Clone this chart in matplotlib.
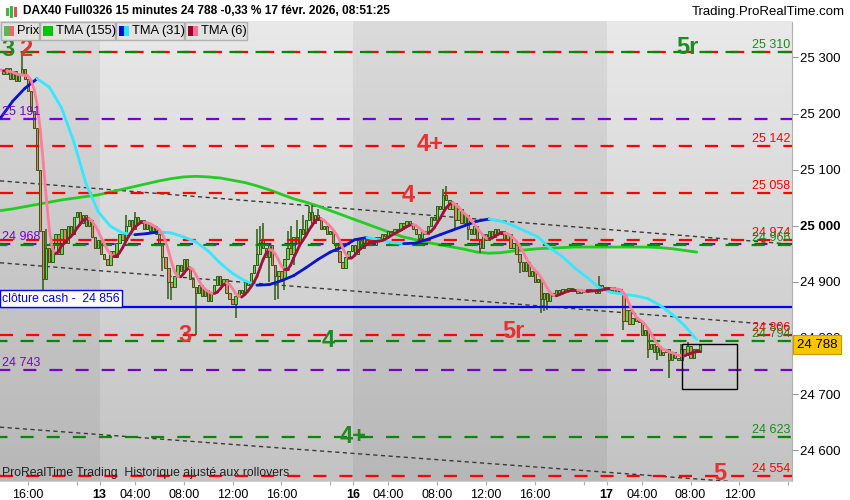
import numpy as np
import pandas as pd
import matplotlib
matplotlib.use("Agg")
import matplotlib.pyplot as plt
from matplotlib.collections import LineCollection
from matplotlib.patches import Rectangle
from matplotlib.colors import LinearSegmentedColormap
from matplotlib.transforms import blended_transform_factory
from matplotlib.ticker import FixedLocator, FuncFormatter

plt.rcParams['font.family'] = ['Liberation Sans', 'DejaVu Sans']
plt.rcParams['lines.scale_dashes'] = False

# 15 minute closes, 12 Feb 13:45 -> 17 Feb 08:45 (session 01:15-22:00)
closes_12 = [25278, 25270, 25282, 25262, 25275, 25258, 25270, 25280, 25262, 25240,
             25205, 25175, 25100, 24990, 24905, 24960, 24935, 24965, 24985, 24950,
             24995, 24970, 25000, 24985, 25015, 25025, 25005, 25020, 25000, 25010,
             24980, 24960, 24975]
closes_13 = [24950, 24940, 24930, 24955, 24945, 24970, 24985, 24975, 25000, 25010,
             24995, 25015, 25005, 25010, 24995, 25005, 24990, 25000, 24985, 24970,
             24945, 24925, 24900, 24890, 24910, 24930, 24920, 24940, 24925, 24905,
             24890, 24880, 24895, 24875, 24885, 24865, 24880, 24895, 24910, 24895,
             24905, 24880, 24870, 24860, 24875, 24885, 24880, 24900, 24895, 24915,
             24930, 24950, 24975, 24960, 24945, 24965, 24930, 24910, 24920, 24905,
             24940, 24960, 24950, 24980, 24970, 24995, 24985, 25010, 25025, 25005,
             25020, 25010, 24995, 25000, 24985, 24990, 24970, 24955, 24935, 24925,
             24945, 24955, 24965]
closes_16 = [24950, 24975, 24960, 24980, 24970, 24975, 24965, 24980, 24972, 24985,
             24982, 24990, 24988, 24995, 24992, 25005, 25000, 25008, 25002, 24995,
             24985, 24978, 24990, 24985, 25000, 25015, 25010, 25035, 25030, 25055,
             25045, 25030, 25040, 25010, 25030, 25005, 25020, 24995, 24985, 25000,
             24975, 24960, 24985, 24975, 24990, 24980, 24995, 24985, 24990, 24975,
             24985, 24960, 24970, 24950, 24935, 24920, 24935, 24910, 24920, 24900,
             24905, 24870, 24880, 24865, 24880, 24875, 24885, 24880, 24887, 24883,
             24889, 24884, 24886, 24880, 24884, 24882, 24887, 24883, 24886, 24880,
             24895, 24885, 24890]
closes_17 = [24885, 24890, 24882, 24888, 24880, 24830, 24850, 24825, 24835, 24830,
             24828, 24805, 24815, 24780, 24790, 24775, 24785, 24770, 24775, 24780,
             24760, 24775, 24765, 24760, 24780, 24770, 24785, 24765, 24780, 24775,
             24788]

# visible wick extremes (bar index -> price)
highs_extra = {7: 25310, 15: 24995, 41: 25020, 44: 25025, 84: 24995, 85: 25000,
               86: 25005, 94: 24990, 95: 25000, 97: 25010, 99: 25020, 101: 25035,
               102: 25037, 104: 25030, 145: 25065, 146: 25070, 196: 24910,
               204: 24856, 223: 24790, 225: 24792}
lows_extra = {14: 24878, 53: 24920, 55: 24870, 56: 24868, 64: 24805, 77: 24835,
              88: 24900, 90: 24868, 91: 24870, 93: 24885, 96: 24930, 149: 24995,
              153: 24975, 157: 24952, 170: 24915, 177: 24845, 178: 24848,
              179: 24850, 204: 24814, 212: 24765, 215: 24760, 219: 24728}

# triangular averages, one value per hour (every 4th bar)
tma155_hourly = [25027, 25030, 25034, 25038, 25042, 25046, 25049, 25052, 25055, 25060,
                 25065, 25070, 25075, 25080, 25084, 25087, 25088, 25087, 25085, 25081,
                 25077, 25071, 25064, 25056, 25048, 25042, 25035, 25027, 25019, 25011,
                 25003, 24995, 24987, 24980, 24975, 24970, 24966, 24962, 24958, 24953,
                 24951, 24952, 24955, 24957, 24959, 24960, 24961, 24962, 24962, 24962,
                 24962, 24962, 24962, 24962, 24961, 24959, 24956, 24953]
tma31_hourly = [25192, 25222, 25245, 25262, 25247, 25210, 25150, 25075, 25025, 24999,
                24987, 24984, 24986, 24989, 24987, 24980, 24971, 24955, 24933, 24915,
                24902, 24894, 24895, 24902, 24911, 24925, 24940, 24953, 24962, 24975,
                24979, 24975, 24970, 24968, 24969, 24976, 24984, 24992, 25000, 25008,
                25012, 25008, 25000, 24990, 24980, 24960, 24945, 24925, 24908, 24890,
                24881, 24878, 24875, 24870, 24858, 24842, 24822, 24797]

# horizontal levels
levels_red = [25310, 25142, 25058, 24974, 24806, 24554]
levels_green = [25310, 24966, 24794, 24623]
levels_purple = [25191, 24968, 24743]
cash_close = 24856
last_price = 24788

right_labels = [(25310, 'green'), (25142, 'red'), (25058, 'red'), (24974, 'red'),
                (24966, 'green'), (24806, 'red'), (24794, 'green'), (24623, 'green'),
                (24554, 'red')]
left_labels = [25191, 24968, 24743]

# wave counts written on the chart: text, bar index, level, colour
wave_labels = [("3", 2.5, 25314, 'green'), ("2", 8.3, 25314, 'red'),
               ("5r", 225.0, 25318, 'green'), ("4+", 140.6, 25144, 'red'),
               ("4", 133.4, 25053, 'red'), ("3", 60.4, 24805, 'red'),
               ("4", 107.2, 24796, 'green'), ("5r", 168.1, 24812, 'red'),
               ("4+", 115.4, 24625, 'green'), ("5", 235.6, 24559, 'red')]

# drawn trend lines: price at left and right edge of the window
trend_lines = [(25080, 24967), (24934, 24821), (24641, 24536)]

# zone box: bar index from/to, price low/high
box_zone = (223.2, 241.3, 24709, 24789)

day_bounds = [32.5, 115.5, 198.5]
time_ticks = [9, 25, 32.5, 44, 60, 76, 92, 108, 115.5, 127, 143, 159, 175, 191,
              198.5, 210, 226, 242, 258]
time_labels = ["16:00", "", "13", "04:00", "08:00", "12:00", "16:00", "", "16",
               "04:00", "08:00", "12:00", "16:00", "", "17", "04:00", "08:00", "12:00", ""]
price_ticks = [24600, 24700, 24800, 24900, 25000, 25100, 25200, 25300]

COL = {'red': '#ff0000', 'green': '#008a00', 'purple': '#7a00c8'}
TXT = {'red': '#e63232', 'green': '#1f8a1f'}

closes = closes_12 + closes_13 + closes_16 + closes_17
n = len(closes)
idx = np.arange(n)
opens = [closes[0]] + closes[:-1]

x0, x1 = -0.16, 259.2
y0, y1 = 24545, 25364

fig = plt.figure(figsize=(8.5, 5), dpi=100)
fig.patch.set_facecolor('white')
ax = fig.add_axes([0, 19 / 500, 792 / 850, 459.5 / 500])
ax.set_xlim(x0, x1)
ax.set_ylim(y0, y1)

# background gradient + darker alternate days
grad = np.linspace(0, 1, 256).reshape(-1, 1)
bg = LinearSegmentedColormap.from_list('bg', ['#e9e9e9', '#c3c3c3'])
ax.imshow(grad, extent=[x0, x1, y0, y1], aspect='auto', cmap=bg, origin='upper', zorder=0)
ax.axvspan(x0, day_bounds[0], color='black', alpha=0.06, lw=0, zorder=0.5)
ax.axvspan(day_bounds[1], day_bounds[2], color='black', alpha=0.06, lw=0, zorder=0.5)

# trend lines
for a, b in trend_lines:
    ax.plot([x0, x1], [a, b], color='#3a3a3a', lw=1, ls=(0, (3, 2.5)), zorder=1.5)

# TMA 155
ax.plot(np.arange(len(tma155_hourly)) * 4, tma155_hourly, color='#22cc22', lw=2, zorder=2,
        solid_capstyle='round')

# candles
for i in range(n):
    o, c = opens[i], closes[i]
    lo = lows_extra.get(i, min(o, c))
    hi = highs_extra.get(i, max(o, c))
    if hi > max(o, c) or lo < min(o, c):
        ax.vlines(i, lo, hi, color='#2d5c12', lw=1.1, zorder=2.9)
    fill = '#5fd84a' if c >= o else '#f07a6a'
    ax.bar(i, max(abs(c - o), 1.5), bottom=min(o, c), width=0.75, color=fill,
           edgecolor='#2d5c12', linewidth=0.7, zorder=3)

# levels
for lv in levels_red:
    ax.axhline(lv, color=COL['red'], lw=1.6, ls=(0, (9.4, 9.4)), zorder=3.5)
for lv in levels_purple:
    ax.axhline(lv, color=COL['purple'], lw=1.6, ls=(2, (9.4, 9.4)), zorder=3.5)
for lv in levels_green:
    ax.axhline(lv, color=COL['green'], lw=1.6, ls=(4, (9.4, 9.4)), zorder=3.6)
ax.axhline(cash_close, color='#0000ff', lw=1.6, zorder=3.6)


def slope_line(xs, ys, up, dn, lw, z):
    xs = np.asarray(xs, float)
    ys = np.asarray(ys, float)
    pts = np.column_stack([xs, ys])
    segs = np.stack([pts[:-1], pts[1:]], axis=1)
    cols = [up if b >= a else dn for a, b in zip(ys[:-1], ys[1:])]
    ax.add_collection(LineCollection(segs, colors=cols, linewidths=lw, zorder=z,
                                     capstyle='round'))


slope_line(np.arange(len(tma31_hourly)) * 4, tma31_hourly, '#0a14c8', '#33e8ff', 2, 4)
tma6 = pd.Series(closes, dtype=float).rolling(3, min_periods=1).mean() \
    .rolling(4, min_periods=1).mean()
slope_line(idx, tma6.values, '#a0103a', '#ff7c9c', 2, 5)

# zone box
bx0, bx1, by0, by1 = box_zone
ax.add_patch(Rectangle((bx0, by0), bx1 - bx0, by1 - by0, fill=False, ec='black', lw=1, zorder=6))

fmt = lambda v: f"{int(round(v)):,}".replace(",", " ")

# level labels
for lv, c in right_labels:
    ax.text(246, lv + 1.5, fmt(lv), color=COL[c] if c == 'red' else '#1a8a1a',
            fontsize=9, ha='left', va='bottom', zorder=7)
for lv in left_labels:
    ax.text(0.4, lv + 1.5, fmt(lv), color=COL['purple'], fontsize=9, ha='left',
            va='bottom', zorder=7)
ax.text(0.5, cash_close + 3, "clôture cash -  " + fmt(cash_close), color='#0000ff',
        fontsize=8.8, ha='left', va='bottom', zorder=8,
        bbox=dict(boxstyle='square,pad=0.2', fc='white', ec='#0000ff', lw=1))

for t, xi, yv, c in wave_labels:
    ax.text(xi, yv, t, color=TXT[c], fontsize=17, fontweight='bold', ha='center',
            va='center', zorder=7)

ax.text(0.003, 0.004, "ProRealTime Trading  Historique ajusté aux rollovers",
        transform=ax.transAxes, fontsize=8.8, color='#222222', va='bottom', zorder=7)

# axes styling
for s in ['top', 'left']:
    ax.spines[s].set_visible(False)
ax.spines['right'].set_color('#b0b0b0')
ax.spines['bottom'].set_color('#d0d0d0')
ax.yaxis.tick_right()
ax.yaxis.set_major_locator(FixedLocator(price_ticks))
ax.yaxis.set_major_formatter(FuncFormatter(lambda v, p: fmt(v)))
ax.tick_params(axis='y', direction='out', length=4, color='#999999', labelsize=9.5, pad=2)
for lab in ax.get_yticklabels():
    if lab.get_text() == "25 000":
        lab.set_fontweight('bold')
ax.xaxis.set_major_locator(FixedLocator(time_ticks))
ax.set_xticklabels(time_labels)
ax.tick_params(axis='x', direction='out', length=3, color='#aaaaaa', labelsize=9, pad=3)
for lab in ax.get_xticklabels():
    if lab.get_text() in ("13", "16", "17"):
        lab.set_fontweight('bold')

# last price tag
tr = blended_transform_factory(ax.transAxes, ax.transData)
ax.text(1.006, last_price, fmt(last_price), transform=tr, fontsize=9.5, ha='left',
        va='center', zorder=9, clip_on=False,
        bbox=dict(boxstyle='square,pad=0.25', fc='#f8c600', ec='#c89a00', lw=0.8))

# header
fig.text(23 / 850, 1 - 11 / 500, "DAX40 Full0326 15 minutes 24 788 -0,33 % 17 févr. 2026, 08:51:25",
         fontsize=8.6, fontweight='bold', va='center', ha='left')
fig.text(845 / 850, 1 - 12 / 500, "Trading.ProRealTime.com", fontsize=9.5, va='center', ha='right')
for px_x, h, c in [(6, 8, '#3cb83c'), (10, 12, '#3cb83c'), (14, 10, '#e05050')]:
    fig.add_artist(Rectangle((px_x / 850, 1 - (12 + h / 2) / 500), 2.5 / 850, h / 500,
                             transform=fig.transFigure, fc=c, ec='none'))

# legend boxes
legend_items = [("Prix", 1, 38, '#4cc04c', '#e86a6a'),
                ("TMA (155)", 40, 75, '#00c800', '#00c800'),
                ("TMA (31)", 116, 68, '#0010c8', '#20e8ff'),
                ("TMA (6)", 185, 62, '#a00030', '#ff6e96')]
for label, lx, lw_, c1, c2 in legend_items:
    fig.add_artist(Rectangle((lx / 850, 1 - 40 / 500), lw_ / 850, 18 / 500,
                             transform=fig.transFigure, fc='#e2e2e2', ec='#b0b0b0', lw=1,
                             zorder=10))
    fig.add_artist(Rectangle(((lx + 3) / 850, 1 - 36 / 500), 5 / 850, 10 / 500,
                             transform=fig.transFigure, fc=c1, ec='none', zorder=11))
    fig.add_artist(Rectangle(((lx + 8) / 850, 1 - 36 / 500), 5 / 850, 10 / 500,
                             transform=fig.transFigure, fc=c2, ec='none', zorder=11))
    fig.text((lx + 16) / 850, 1 - 31 / 500, label, fontsize=9.3, va='center', ha='left',
             zorder=12)

fig.savefig("out.png", dpi=100)
